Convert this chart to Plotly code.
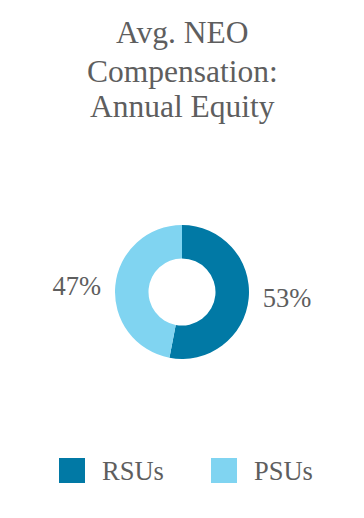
import plotly.graph_objects as go

title_lines = ["Avg. NEO", "Compensation:", "Annual Equity"]
categories = ["RSUs", "PSUs"]
values = [53, 47]
colors = ["#0179a5", "#80d4f1"]

TEXT = "#5e5e5e"
FONT = "Liberation Serif"

W, H = 364, 518
cy = 292
r = 67

fig = go.Figure(go.Pie(
    labels=categories,
    values=values,
    hole=0.5,
    sort=False,
    direction="clockwise",
    rotation=0,
    marker=dict(colors=colors, line=dict(width=0)),
    texttemplate=["\u00a0%{percent:.0%}", "%{percent:.0%}\u00a0"],
    textposition="outside",
    textfont=dict(family=FONT, size=26.5, color=TEXT),
    showlegend=False,
    automargin=False,
    hoverinfo="label+percent",
    domain=dict(x=[0, 1], y=[1 - (cy + r) / H, 1 - (cy - r) / H]),
))

fig.update_layout(
    width=W, height=H,
    margin=dict(l=0, r=0, t=0, b=0, autoexpand=False),
    paper_bgcolor="white",
    plot_bgcolor="white",
    showlegend=False,
)

# title, one annotation per line for tighter line spacing
baselines = [43, 81.5, 117]
for line, base in zip(title_lines, baselines):
    fig.add_annotation(text=line, xref="paper", yref="paper",
                       x=0.5, y=1 - (base - 10.5) / H,
                       xanchor="center", yanchor="middle", showarrow=False,
                       font=dict(family=FONT, size=31.5, color=TEXT))

# custom legend with large square swatches
leg_x = [59, 211]
leg_y = 470.5
sq = 26
for i, (cat, col) in enumerate(zip(categories, colors)):
    x0 = leg_x[i]
    fig.add_shape(type="rect", xref="paper", yref="paper",
                  x0=x0 / W, x1=(x0 + sq) / W,
                  y0=1 - (leg_y + 12.5) / H, y1=1 - (leg_y - 12.5) / H,
                  fillcolor=col, line=dict(width=0))
    fig.add_annotation(text=cat, xref="paper", yref="paper",
                       x=(x0 + sq + 15) / W, y=1 - leg_y / H,
                       xanchor="left", yanchor="middle", showarrow=False,
                       font=dict(family=FONT, size=26.5, color=TEXT))

fig.write_html("out.html")
